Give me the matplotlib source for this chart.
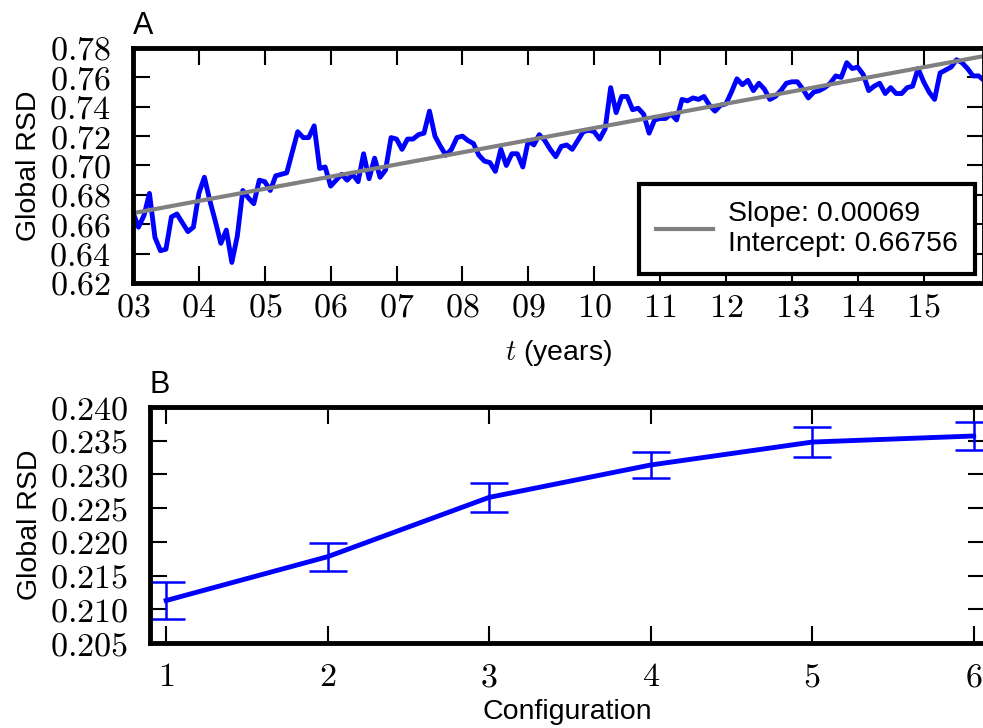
import numpy as np
import matplotlib
matplotlib.use("Agg")
import matplotlib.pyplot as plt
from matplotlib.ticker import FuncFormatter

plt.rcParams['font.family'] = ['Liberation Sans', 'DejaVu Sans']
plt.rcParams['mathtext.fontset'] = 'cm'

# monthly global RSD, Jan 2003 .. Dec 2015
rsd = [0.668, 0.658, 0.666, 0.681, 0.651, 0.642, 0.643, 0.665, 0.667, 0.661, 0.655, 0.658,
       0.681, 0.692, 0.676, 0.662, 0.647, 0.656, 0.634, 0.652, 0.683, 0.678, 0.674, 0.690,
       0.689, 0.683, 0.693, 0.694, 0.695, 0.709, 0.723, 0.719, 0.719, 0.727, 0.698, 0.699,
       0.686, 0.690, 0.694, 0.690, 0.694, 0.689, 0.708, 0.691, 0.705, 0.692, 0.697, 0.719,
       0.718, 0.711, 0.718, 0.718, 0.721, 0.722, 0.737, 0.720, 0.713, 0.707, 0.711, 0.719,
       0.720, 0.717, 0.715, 0.707, 0.703, 0.702, 0.696, 0.711, 0.700, 0.708, 0.708, 0.699,
       0.717, 0.714, 0.721, 0.717, 0.711, 0.706, 0.713, 0.714, 0.711, 0.717, 0.723, 0.724,
       0.723, 0.718, 0.725, 0.753, 0.736, 0.747, 0.747, 0.738, 0.739, 0.735, 0.722, 0.731,
       0.732, 0.732, 0.735, 0.731, 0.745, 0.744, 0.746, 0.745, 0.747, 0.741, 0.737, 0.741,
       0.742, 0.750, 0.759, 0.755, 0.758, 0.751, 0.756, 0.752, 0.745, 0.747, 0.751, 0.756,
       0.757, 0.757, 0.752, 0.746, 0.750, 0.751, 0.753, 0.756, 0.761, 0.760, 0.770, 0.766,
       0.767, 0.762, 0.751, 0.754, 0.756, 0.749, 0.753, 0.749, 0.749, 0.753, 0.754, 0.766,
       0.757, 0.750, 0.745, 0.763, 0.765, 0.767, 0.772, 0.770, 0.766, 0.761, 0.761, 0.758]
slope = 0.00069
intercept = 0.66756
start_year = 2003

config = [1, 2, 3, 4, 5, 6]
config_rsd = [0.2113, 0.2178, 0.2266, 0.2314, 0.2348, 0.2357]
config_err = [0.0028, 0.0021, 0.0022, 0.0019, 0.0022, 0.0021]

months = np.arange(len(rsd))
t = start_year + months / 12.0
trend = intercept + slope * months

fig = plt.figure(figsize=(9.83, 7.28), dpi=100)

def style(ax):
    for s in ax.spines.values():
        s.set_linewidth(3.5)
    ax.tick_params(which='both', direction='in', top=True, right=True,
                   length=12, width=1.5, labelsize=24.5)

# panel A
ax1 = fig.add_axes([133 / 983, 1 - 283 / 728, 851 / 983, 235 / 728])
ax1.plot(t, rsd, color='blue', lw=3.5)
ax1.plot(t, trend, color='gray', lw=3,
         label='Slope: %.5f\nIntercept: %.5f' % (slope, intercept))
ax1.set_xlim(t[0], t[-1])
ax1.set_ylim(0.62, 0.78)
ax1.set_xticks(np.arange(2003, 2016))
ax1.set_yticks(np.arange(0.62, 0.781, 0.02))
ax1.xaxis.set_major_formatter(FuncFormatter(lambda v, p: r'$%02d$' % (round(v) - 2000)))
ax1.yaxis.set_major_formatter(FuncFormatter(lambda v, p: r'$%.2f$' % v))
style(ax1)
ax1.tick_params(axis='x', pad=7)
ax1.tick_params(axis='y', pad=16)
ax1.set_ylabel('Global RSD', fontsize=20.5, labelpad=5)
ax1.set_xlabel(r'$t$ (years)', fontsize=20.5, labelpad=10)
ax1.set_title('A', loc='left', fontsize=22, pad=10)
leg = ax1.legend(loc='lower right', fontsize=20.5, handlelength=2.0,
                 handletextpad=0.55, borderpad=0.6, fancybox=False,
                 framealpha=1, borderaxespad=0.3)
leg.get_frame().set_edgecolor('black')
leg.get_frame().set_linewidth(3)

# panel B
ax2 = fig.add_axes([150 / 983, 1 - 643 / 728, 835 / 983, 236 / 728])
ax2.errorbar(config, config_rsd, yerr=config_err, color='blue', lw=3.5,
             elinewidth=1.8, capsize=14, capthick=1.8)
ax2.set_xlim(0.9, 6.07)
ax2.set_ylim(0.205, 0.240)
ax2.set_xticks(config)
ax2.set_yticks(np.arange(0.205, 0.2401, 0.005))
ax2.xaxis.set_major_formatter(FuncFormatter(lambda v, p: r'$%d$' % round(v)))
ax2.yaxis.set_major_formatter(FuncFormatter(lambda v, p: r'$%.3f$' % v))
style(ax2)
ax2.tick_params(axis='x', pad=14)
ax2.tick_params(axis='y', pad=16)
ax2.set_ylabel('Global RSD', fontsize=20.5, labelpad=5)
ax2.set_xlabel('Configuration', fontsize=20.5, labelpad=4)
ax2.set_title('B', loc='left', fontsize=22, pad=10)

fig.savefig('out.png', dpi=100)
